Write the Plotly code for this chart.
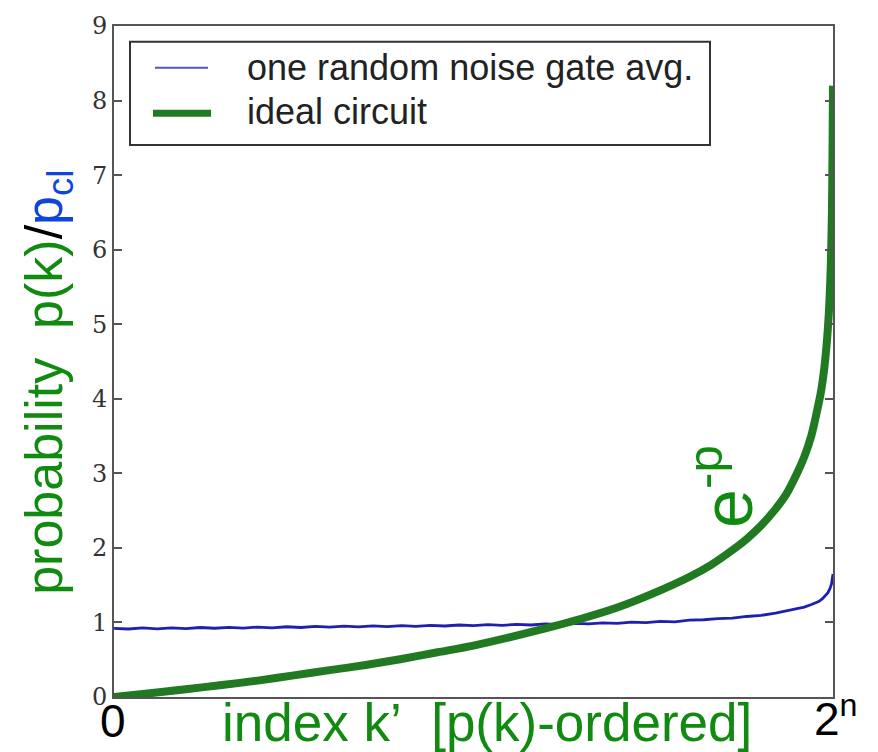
import plotly.graph_objects as go

# Ideal circuit: ordered output probabilities p(k)/p_cl versus normalised index k'/2^n
ideal_x = [0.0, 0.05, 0.10, 0.15, 0.20, 0.25, 0.30, 0.35, 0.40, 0.45, 0.50, 0.55,
           0.60, 0.65, 0.70, 0.75, 0.80, 0.83, 0.86, 0.88, 0.90, 0.92, 0.935,
           0.95, 0.96, 0.97, 0.977, 0.983, 0.988, 0.992, 0.995, 0.997, 0.9985,
           0.9994, 1.0]
ideal_y = [0.0, 0.05, 0.105, 0.16, 0.22, 0.29, 0.36, 0.43, 0.51, 0.60, 0.69, 0.80,
           0.92, 1.05, 1.20, 1.39, 1.61, 1.77, 1.97, 2.12, 2.30, 2.52, 2.72,
           3.00, 3.22, 3.51, 3.80, 4.08, 4.42, 4.83, 5.30, 5.81, 6.50,
           7.40, 8.20]

# Circuit with one random noise gate, averaged
noisy_x = [0.00, 0.02, 0.04, 0.06, 0.08, 0.10, 0.12, 0.14, 0.16, 0.18, 0.20, 0.22,
           0.24, 0.26, 0.28, 0.30, 0.32, 0.34, 0.36, 0.38, 0.40, 0.42, 0.44, 0.46,
           0.48, 0.50, 0.52, 0.54, 0.56, 0.58, 0.60, 0.62, 0.64, 0.66, 0.68, 0.70,
           0.72, 0.74, 0.76, 0.78, 0.80, 0.82, 0.84, 0.86, 0.88, 0.90, 0.92, 0.94,
           0.96, 0.97, 0.98, 0.985, 0.99, 0.993, 0.996, 0.998, 1.0]
noisy_y = [0.920, 0.912, 0.926, 0.915, 0.928, 0.918, 0.932, 0.922, 0.935, 0.925,
           0.938, 0.928, 0.942, 0.932, 0.946, 0.936, 0.950, 0.940, 0.954, 0.944,
           0.958, 0.948, 0.962, 0.952, 0.966, 0.956, 0.970, 0.961, 0.975, 0.966,
           0.981, 0.972, 0.988, 0.980, 0.995, 0.988, 1.004, 0.997, 1.014, 1.008,
           1.032, 1.036, 1.052, 1.058, 1.080, 1.095, 1.125, 1.160, 1.205, 1.240,
           1.280, 1.315, 1.360, 1.400, 1.460, 1.520, 1.650]

y_ticks = [0, 1, 2, 3, 4, 5, 6, 7, 8, 9]
legend_labels = ["one random noise gate avg.", "ideal circuit"]

GREEN_LINE = "#217a21"
BLUE_LINE = "#2020b0"
GREEN_TEXT = "#118a11"
BLUE_TEXT = "#1144dd"
SANS = "Liberation Sans, Arial, sans-serif"

fig = go.Figure()
fig.add_trace(go.Scatter(x=noisy_x, y=noisy_y, mode="lines",
                         line=dict(color=BLUE_LINE, width=2.8),
                         name=legend_labels[0], showlegend=False))
fig.add_trace(go.Scatter(x=ideal_x, y=ideal_y, mode="lines",
                         line=dict(color=GREEN_LINE, width=8, shape="spline",
                                   smoothing=0.8),
                         name=legend_labels[1], showlegend=False))

W, H = 878, 752
L, R, T, B = 114, 45, 20, 55
pw, ph = W - L - R, H - T - B


def px(xp):
    return (xp - L) / pw


def py(yp):
    return (H - B - yp) / ph


# Legend box with sample lines
shapes = [
    dict(type="rect", xref="paper", yref="paper", x0=px(130), x1=px(710),
         y0=py(140), y1=py(36), line=dict(color="#333333", width=2),
         fillcolor="white", layer="above"),
    dict(type="line", xref="paper", yref="paper", x0=px(155), x1=px(208),
         y0=py(62), y1=py(62), line=dict(color="#5555bb", width=2), layer="above"),
    dict(type="line", xref="paper", yref="paper", x0=px(153), x1=px(211),
         y0=py(108), y1=py(108), line=dict(color=GREEN_LINE, width=7), layer="above"),
]

nb = "\u00a0"
annotations = [
    dict(xref="paper", yref="paper", x=px(245), y=py(62), xanchor="left",
         yanchor="middle", showarrow=False, text=legend_labels[0],
         font=dict(family=SANS, size=36, color="#222222")),
    dict(xref="paper", yref="paper", x=px(245), y=py(106), xanchor="left",
         yanchor="middle", showarrow=False, text=legend_labels[1],
         font=dict(family=SANS, size=36, color="#222222")),
    # y-axis title
    dict(xref="paper", yref="paper", x=px(48), y=py(380), xanchor="center",
         yanchor="middle", showarrow=False, textangle=-90,
         text=(f"<span style='color:{GREEN_TEXT}'>probability{nb}{nb}p(k)</span>"
               f"<span style='color:black'>/</span>"
               f"<span style='color:{BLUE_TEXT}'>p<sub>cl</sub></span>"),
         font=dict(family=SANS, size=52)),
    # x-axis title and end labels
    dict(xref="paper", yref="paper", x=px(487), y=py(723), xanchor="center",
         yanchor="middle", showarrow=False,
         text=f"index k\u2019{nb}{nb}[p(k)-ordered]",
         font=dict(family=SANS, size=53, color=GREEN_TEXT)),
    dict(xref="paper", yref="paper", x=px(113), y=py(721), xanchor="center",
         yanchor="middle", showarrow=False, text="0",
         font=dict(family=SANS, size=46, color="black")),
    dict(xref="paper", yref="paper", x=px(836), y=py(716), xanchor="center",
         yanchor="middle", showarrow=False, text="2<sup>n</sup>",
         font=dict(family=SANS, size=46, color="black")),
    # curve label
    dict(xref="paper", yref="paper", x=px(722), y=py(485), xanchor="center",
         yanchor="middle", showarrow=False, textangle=-90,
         text="e<sup>-p</sup>",
         font=dict(family=SANS, size=70, color=GREEN_TEXT)),
]

fig.update_layout(
    width=W, height=H,
    margin=dict(l=L, r=R, t=T, b=B, pad=0),
    paper_bgcolor="white", plot_bgcolor="white",
    shapes=shapes, annotations=annotations,
    showlegend=False,
)
fig.update_xaxes(range=[0, 1], showgrid=False, zeroline=False,
                 showticklabels=False, ticks="",
                 showline=True, linecolor="#555555", linewidth=2, mirror=True)
fig.update_yaxes(range=[0, 9], showgrid=False, zeroline=False,
                 tickvals=y_ticks, ticktext=[str(v) for v in y_ticks],
                 ticks="inside", ticklen=8, tickcolor="#555555", tickwidth=1.5,
                 tickfont=dict(family="DejaVu Serif, serif", size=24, color="#333333"),
                 showline=True, linecolor="#555555", linewidth=2, mirror="ticks")

fig.write_html("out.html")
